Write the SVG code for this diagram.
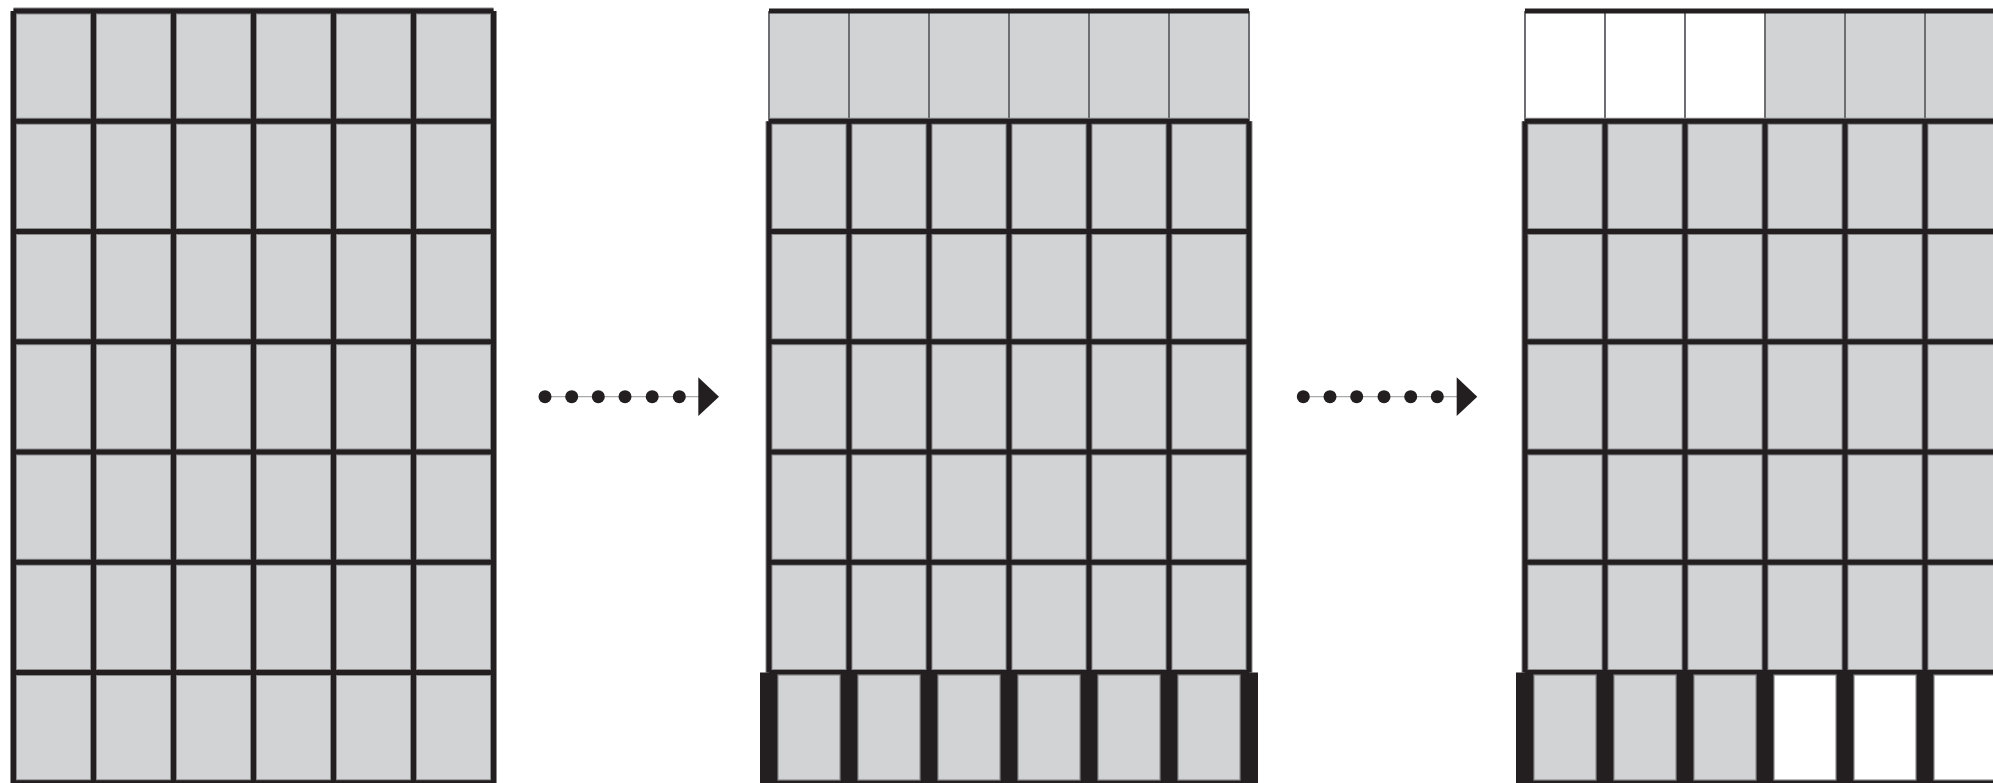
<svg xmlns="http://www.w3.org/2000/svg" xmlns:xlink="http://www.w3.org/1999/xlink" width="1993" height="783" viewBox="0 0 1993 783">
<style>
.bg{fill:#ffffff}
.g{fill:#d1d3d4}
.w{fill:#ffffff}
.cell{stroke:#8a8b8d;stroke-width:1.2}
.halo{fill:none;stroke:#8a8b8d;stroke-width:7}
.blk{fill:none;stroke:#231f20;stroke-width:5}
.thin{fill:none;stroke:#6d6e71;stroke-width:2}
.dk{fill:#231f20}
.cline{fill:none;stroke:#a7a9ac;stroke-width:1.2}
.dot{fill:#231f20}
</style>
<defs>
<path id="grid1" d="M13.5 11V783M93.5 11V783M173.5 11V783M253.5 11V783M333.5 11V783M413.5 11V783M493.5 11V783M13.5 11H493.5M13.5 121.25H493.5M13.5 231.5H493.5M13.5 341.75H493.5M13.5 452H493.5M13.5 562.25H493.5M13.5 672.5H493.5M13.5 782.75H493.5"/>
<path id="grid2" d="M769 121.25V672.5M849 121.25V672.5M929 121.25V672.5M1009 121.25V672.5M1089 121.25V672.5M1169 121.25V672.5M1249 121.25V672.5M769 121.25H1249M769 231.5H1249M769 341.75H1249M769 452H1249M769 562.25H1249M769 672.5H1249"/>
<path id="grid3" d="M1525 121.25V672.5M1605 121.25V672.5M1685 121.25V672.5M1765 121.25V672.5M1845 121.25V672.5M1925 121.25V672.5M2005 121.25V672.5M1525 121.25H2005M1525 231.5H2005M1525 341.75H2005M1525 452H2005M1525 562.25H2005M1525 672.5H2005"/>
</defs>
<rect class="bg" x="0" y="0" width="1993" height="783"/>

<g id="panel1">
<rect class="g" x="13.5" y="11" width="480" height="772"/>
<use xlink:href="#grid1" class="halo"/>
<use xlink:href="#grid1" class="blk"/>
</g>

<g id="panel2">
<rect class="g" x="769" y="11" width="480" height="661.5"/>
<path class="thin" d="M769 11V121.25M849 11V121.25M929 11V121.25M1009 11V121.25M1089 11V121.25M1169 11V121.25M1249 11V121.25"/>
<path class="blk" d="M769 11H1249"/>
<use xlink:href="#grid2" class="halo"/>
<use xlink:href="#grid2" class="blk"/>
<rect class="dk" x="760" y="672.5" width="498" height="111"/>
<rect class="g cell" x="778" y="675" width="62" height="105"/>
<rect class="g cell" x="858" y="675" width="62" height="105"/>
<rect class="g cell" x="938" y="675" width="62" height="105"/>
<rect class="g cell" x="1018" y="675" width="62" height="105"/>
<rect class="g cell" x="1098" y="675" width="62" height="105"/>
<rect class="g cell" x="1178" y="675" width="62" height="105"/>
</g>

<g id="panel3">
<rect class="w" x="1525" y="11" width="240" height="110.25"/>
<rect class="g" x="1765" y="11" width="240" height="110.25"/>
<rect class="g" x="1525" y="121.25" width="480" height="551.25"/>
<path class="thin" d="M1525 11V121.25M1605 11V121.25M1685 11V121.25M1765 11V121.25M1845 11V121.25M1925 11V121.25"/>
<path class="blk" d="M1525 11H2005"/>
<use xlink:href="#grid3" class="halo"/>
<use xlink:href="#grid3" class="blk"/>
<rect class="dk" x="1516" y="672.5" width="498" height="111"/>
<rect class="g cell" x="1534" y="675" width="62" height="105"/>
<rect class="g cell" x="1614" y="675" width="62" height="105"/>
<rect class="g cell" x="1694" y="675" width="62" height="105"/>
<rect class="w cell" x="1774" y="675" width="62" height="105"/>
<rect class="w cell" x="1854" y="675" width="62" height="105"/>
<rect class="w cell" x="1934" y="675" width="62" height="105"/>
</g>

<g id="connectors">
<g id="arrow1">
<path class="cline" d="M545 396.7H700"/>
<circle class="dot" cx="545" cy="396.7" r="6.5"/>
<circle class="dot" cx="571.7" cy="396.7" r="6.5"/>
<circle class="dot" cx="598.3" cy="396.7" r="6.5"/>
<circle class="dot" cx="625" cy="396.7" r="6.5"/>
<circle class="dot" cx="652.2" cy="396.7" r="6.5"/>
<circle class="dot" cx="679.3" cy="396.7" r="6.5"/>
<polygon class="dot" points="698.3,377.3 719,396.7 698.3,416"/>
</g>
<g id="arrow2">
<path class="cline" d="M1303.3 396.7H1458"/>
<circle class="dot" cx="1303.3" cy="396.7" r="6.5"/>
<circle class="dot" cx="1330" cy="396.7" r="6.5"/>
<circle class="dot" cx="1356.7" cy="396.7" r="6.5"/>
<circle class="dot" cx="1384" cy="396.7" r="6.5"/>
<circle class="dot" cx="1410.7" cy="396.7" r="6.5"/>
<circle class="dot" cx="1437.3" cy="396.7" r="6.5"/>
<polygon class="dot" points="1456.7,377.3 1477.3,396.7 1456.7,416"/>
</g>
</g>
</svg>
